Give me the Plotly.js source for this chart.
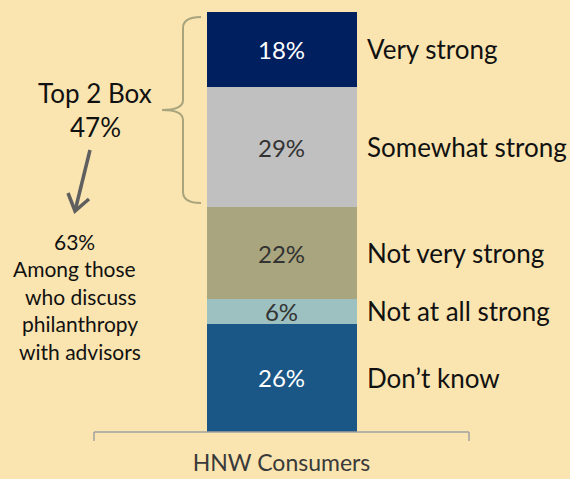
<!DOCTYPE html>
<html>
<head>
<meta charset="utf-8">
<script src="https://cdn.plot.ly/plotly-3.0.1.min.js"></script>
<style>html,body{margin:0;padding:0;background:#FAE5B0;}#chart{width:570px;height:479px;}</style>
</head>
<body>
<div id="chart"></div>
<script>
// ---- data ----
const categories = ['HNW Consumers'];
const seriesNames = ['Don’t know', 'Not at all strong', 'Not very strong', 'Somewhat strong', 'Very strong'];
const seriesValues = [26, 6, 22, 29, 18];
const top2Label = ['Top 2 Box', '47%'];
const noteLines = ['63%', 'Among those', 'who discuss', 'philanthropy', 'with advisors'];

// ---- styles ----
const colors = ['#1A5686', '#9DC0C0', '#A9A57E', '#C0C0C0', '#001F5F'];
const textColors = ['#FFFFFF', '#333333', '#333333', '#333333', '#FFFFFF'];
const FONT = 'Lato, "Open Sans", sans-serif';

const L = 94, R = 101, T = 12, B = 47, W = 570, H = 479;
const plotW = W - L - R, plotH = H - T - B;
const px = x => (x - L) / plotW;
const py = y => (H - B - y) / plotH;

const traces = seriesNames.map((name, i) => ({
  type: 'bar',
  name: name,
  x: categories,
  y: [seriesValues[i]],
  width: 0.4,
  marker: {color: colors[i], line: {width: 0}},
  text: [seriesValues[i] + '%'],
  textposition: 'inside',
  insidetextanchor: 'middle',
  constraintext: 'none',
  textfont: {family: FONT, size: 24, color: textColors[i]},
  hoverinfo: 'skip'
}));

const total = seriesValues.reduce((a, b) => a + b, 0);
const annotations = [];
let cum = 0;
seriesNames.forEach((name, i) => {
  const mid = cum + seriesValues[i] / 2;
  cum += seriesValues[i];
  annotations.push({
    xref: 'paper', yref: 'y', x: px(365), y: mid,
    xanchor: 'left', yanchor: 'middle', showarrow: false,
    text: name, font: {family: FONT, size: 26, color: '#111111'}
  });
});

// Top 2 Box text
const top2Y = [93, 127];
top2Label.forEach((t, i) => annotations.push({
  xref: 'paper', yref: 'paper', x: px(95), y: py(top2Y[i]),
  xanchor: 'center', yanchor: 'middle', showarrow: false,
  text: t, font: {family: FONT, size: 26, color: '#111111'}
}));

// note lines
const noteY = [241, 268, 296, 323, 351];
const noteX = [74, 74, 80, 80, 80];
noteLines.forEach((t, i) => annotations.push({
  xref: 'paper', yref: 'paper', x: px(noteX[i]), y: py(noteY[i]),
  xanchor: 'center', yanchor: 'middle', showarrow: false,
  text: t, font: {family: FONT, size: 21, color: '#111111'}
}));

function P(x, y) { return px(x) + ',' + py(y); }
const bracePath = 'M' + P(201, 17) + ' Q' + P(183, 17) + ' ' + P(183, 28) +
  ' L' + P(183, 100) + ' Q' + P(183, 110) + ' ' + P(162, 110) +
  ' Q' + P(183, 110) + ' ' + P(183, 120) +
  ' L' + P(183, 192) + ' Q' + P(183, 203) + ' ' + P(201, 203);

const shapes = [
  {type: 'path', xref: 'paper', yref: 'paper', path: bracePath,
   line: {color: '#A8A47E', width: 2}},
  {type: 'line', xref: 'paper', yref: 'paper', x0: px(90), y0: py(150), x1: px(75), y1: py(211),
   line: {color: '#5F5F5F', width: 3.5}},
  {type: 'path', xref: 'paper', yref: 'paper',
   path: 'M' + P(68, 193) + ' L' + P(75, 211) + ' L' + P(89, 199),
   line: {color: '#5F5F5F', width: 3.5}},
  {type: 'line', xref: 'paper', yref: 'paper', x0: 0, y0: 0, x1: 1, y1: 0,
   line: {color: '#A0A0A0', width: 1.5}},
  {type: 'line', xref: 'paper', yref: 'paper', x0: 0, y0: 0, x1: 0, y1: py(441),
   line: {color: '#A0A0A0', width: 1.5}},
  {type: 'line', xref: 'paper', yref: 'paper', x0: 1, y0: 0, x1: 1, y1: py(441),
   line: {color: '#A0A0A0', width: 1.5}}
];

const layout = {
  width: W, height: H,
  margin: {l: L, r: R, t: T, b: B, pad: 0},
  paper_bgcolor: '#FAE5B0', plot_bgcolor: '#FAE5B0',
  barmode: 'stack',
  showlegend: false,
  hovermode: false,
  xaxis: {type: 'category', range: [-0.5, 0.5], showline: false, showgrid: false, zeroline: false,
          ticks: '', tickfont: {family: FONT, size: 23, color: '#3A3A3A'}, ticklabelstandoff: 15, fixedrange: true},
  yaxis: {range: [0, total], showgrid: false, zeroline: false, showline: false, showticklabels: false, fixedrange: true},
  annotations: annotations,
  shapes: shapes
};

Plotly.newPlot('chart', traces, layout, {staticPlot: true, displayModeBar: false});
</script>
</body>
</html>
